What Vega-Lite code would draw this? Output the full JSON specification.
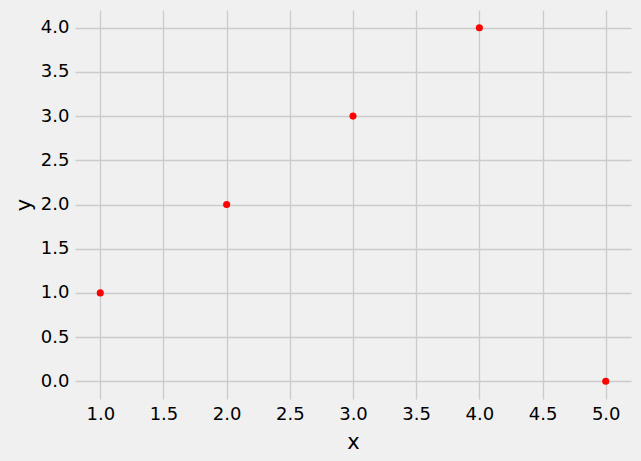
{
  "$schema": "https://vega.github.io/schema/vega-lite/v6.json",
  "width": 556,
  "height": 389,
  "padding": {"left": 13, "top": 10, "right": 10, "bottom": 9},
  "background": "#f0f0f0",
  "config": {
    "view": {"stroke": null, "fill": "#f0f0f0"},
    "font": "DejaVu Sans",
    "axis": {
      "domain": false,
      "ticks": false,
      "gridColor": "#cbcbcb",
      "gridWidth": 1.3,
      "labelFontSize": 18,
      "labelColor": "#000000",
      "titleFontSize": 21,
      "titleFontWeight": "normal",
      "titleColor": "#000000",
      "labelPadding": 6
    }
  },
  "data": {"values": [
    {"x": 1, "y": 1},
    {"x": 2, "y": 2},
    {"x": 3, "y": 3},
    {"x": 4, "y": 4},
    {"x": 5, "y": 0}
  ]},
  "mark": {"type": "point", "filled": true, "color": "#ff0000", "opacity": 1, "size": 50},
  "encoding": {
    "x": {"field": "x", "type": "quantitative", "scale": {"domain": [0.8, 5.2], "nice": false, "zero": false},
      "axis": {"values": [1, 1.5, 2, 2.5, 3, 3.5, 4, 4.5, 5], "format": ".1f", "title": "x", "titlePadding": 8}},
    "y": {"field": "y", "type": "quantitative", "scale": {"domain": [-0.2, 4.2], "nice": false, "zero": false},
      "axis": {"values": [0, 0.5, 1, 1.5, 2, 2.5, 3, 3.5, 4], "format": ".1f", "title": "y", "titlePadding": 6}}
  }
}
